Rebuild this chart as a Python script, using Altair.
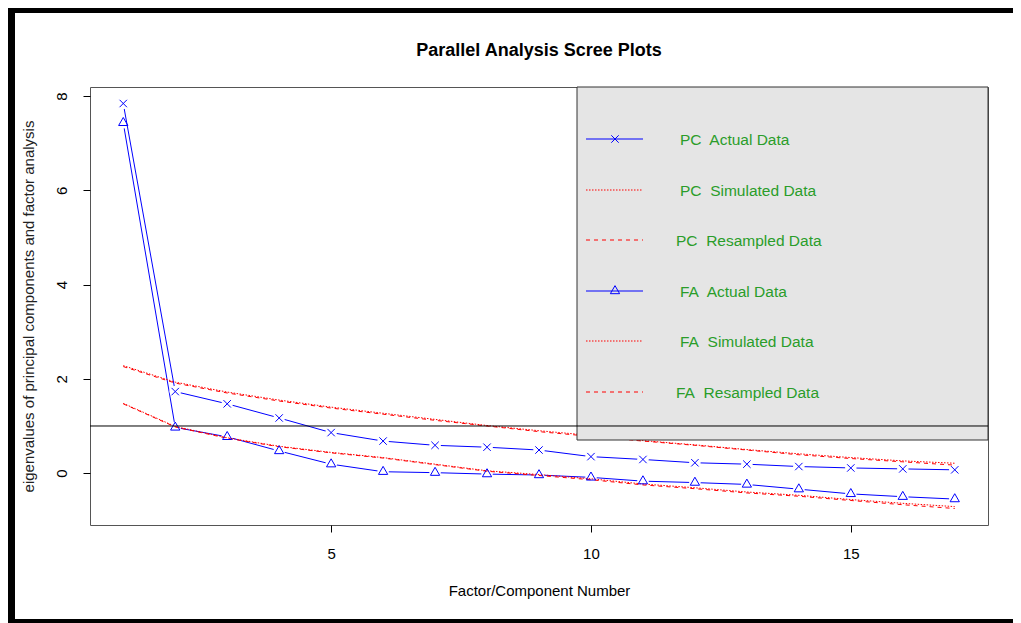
import altair as alt
import pandas as pd

# ---------------- data ----------------
factor = list(range(1, 18))
pc_actual = [7.84, 1.73, 1.47, 1.17, 0.86, 0.68, 0.59, 0.55, 0.49, 0.35, 0.29, 0.22, 0.19, 0.14, 0.11, 0.09, 0.07]
fa_actual = [7.43, 0.97, 0.77, 0.47, 0.19, 0.03, 0.01, -0.02, -0.04, -0.09, -0.17, -0.20, -0.24, -0.34, -0.44, -0.50, -0.55]
pc_simulated = [2.28, 1.93, 1.72, 1.55, 1.40, 1.27, 1.14, 1.01, 0.90, 0.80, 0.69, 0.60, 0.50, 0.41, 0.33, 0.26, 0.21]
pc_resampled = [2.26, 1.91, 1.70, 1.53, 1.38, 1.25, 1.12, 1.00, 0.88, 0.78, 0.68, 0.59, 0.49, 0.39, 0.31, 0.24, 0.17]
fa_simulated = [1.48, 0.99, 0.75, 0.57, 0.44, 0.33, 0.19, 0.05, -0.03, -0.12, -0.23, -0.31, -0.40, -0.47, -0.56, -0.64, -0.71]
fa_resampled = [1.47, 0.98, 0.74, 0.56, 0.43, 0.32, 0.18, 0.04, -0.05, -0.14, -0.25, -0.33, -0.42, -0.49, -0.58, -0.67, -0.75]

x_ticks = [5, 10, 15]
y_ticks = [0, 2, 4, 6, 8]

legend_labels = ["PC\u00a0 Actual Data", "PC\u00a0 Simulated Data", "PC\u00a0 Resampled Data",
                 "FA\u00a0 Actual Data", "FA\u00a0 Simulated Data", "FA\u00a0 Resampled Data"]

title_text = "Parallel Analysis Scree Plots"
x_title = "Factor/Component Number"
y_title = "eigenvalues of principal components and factor analysis"

# ---------------- styling ----------------
FONT = "Liberation Sans"
BLUE = "#0000FF"
RED = "#FF0000"
GREEN = "#2a9d2a"
DOTTED = [1.5, 1.5]
DASHED = [4, 4]
CROSS_PATH = "M-1,-1L1,1M1,-1L-1,1"
TRI_PATH = "M0,-1.155L1,0.577L-1,0.577Z"

W, H = 898, 438

df = pd.DataFrame({
    "factor": factor,
    "pc_actual": pc_actual,
    "fa_actual": fa_actual,
    "pc_simulated": pc_simulated,
    "pc_resampled": pc_resampled,
    "fa_simulated": fa_simulated,
    "fa_resampled": fa_resampled,
})

xscale = alt.Scale(domain=[0.36, 17.64], nice=False, zero=False)
yscale = alt.Scale(domain=[-1.10, 8.19], nice=False, zero=False)

x_axis = alt.Axis(values=x_ticks, format="d", grid=False, domain=False,
                  tickColor="#000000", tickSize=7, tickWidth=1,
                  labelFont=FONT, labelFontSize=15, labelColor="#000000",
                  labelBaseline="middle", labelPadding=21,
                  title=x_title, titleFont=FONT, titleFontSize=15,
                  titleFontWeight="normal", titleColor="#000000",
                  titleX=W / 2, titleY=65, titleBaseline="middle", titleAlign="center")
y_axis = alt.Axis(values=y_ticks, format="d", grid=False, domain=False,
                  tickColor="#000000", tickSize=7, tickWidth=1,
                  labelFont=FONT, labelFontSize=15, labelColor="#000000",
                  labelAngle=270, labelAlign="center", labelBaseline="middle", labelPadding=22,
                  title=y_title, titleFont=FONT, titleFontSize=15,
                  titleFontWeight="normal", titleColor="#222222",
                  titleAngle=270, titleX=-62, titleY=H / 2,
                  titleBaseline="middle", titleAlign="center")

base = alt.Chart(df)
X = alt.X("factor:Q", scale=xscale, axis=x_axis)


def Y(col):
    return alt.Y(f"{col}:Q", scale=yscale, axis=y_axis)


layers = []
# actual data lines with gaps around the points (R type = "b")
layers.append(base.mark_line(color=BLUE, strokeWidth=1).encode(x=X, y=Y("fa_actual")))
layers.append(base.mark_circle(color="white", opacity=1, size=133).encode(x=X, y=Y("fa_actual")))
layers.append(base.mark_line(color=BLUE, strokeWidth=1).encode(x=X, y=Y("pc_actual")))
layers.append(base.mark_circle(color="white", opacity=1, size=133).encode(x=X, y=Y("pc_actual")))
# simulated / resampled
layers.append(base.mark_line(color=RED, strokeWidth=1, strokeDash=DOTTED).encode(x=X, y=Y("pc_simulated")))
layers.append(base.mark_line(color=RED, strokeWidth=1, strokeDash=DASHED).encode(x=X, y=Y("pc_resampled")))
layers.append(base.mark_line(color=RED, strokeWidth=1, strokeDash=DOTTED).encode(x=X, y=Y("fa_simulated")))
layers.append(base.mark_line(color=RED, strokeWidth=1, strokeDash=DASHED).encode(x=X, y=Y("fa_resampled")))
# markers
layers.append(base.mark_point(shape=CROSS_PATH, size=55, filled=False, color=BLUE,
                              strokeWidth=1, opacity=1).encode(x=X, y=Y("pc_actual")))
layers.append(base.mark_point(shape=TRI_PATH, size=86, filled=False, color=BLUE,
                              strokeWidth=1, opacity=1).encode(x=X, y=Y("fa_actual")))

# ---------------- legend (drawn like R's legend box) ----------------
one = pd.DataFrame({"k": [0]})
leg = alt.Chart(one)
LX0, LX1, LY0, LY1 = 487, W, 0, 353
layers.append(leg.mark_rect(fill="#E5E5E5", stroke="#333333", strokeWidth=1).encode(
    x=alt.value(LX0), x2=alt.value(LX1), y=alt.value(LY0), y2=alt.value(LY1)))

styles = [(BLUE, None, CROSS_PATH, 55), (RED, DOTTED, None, 0), (RED, DASHED, None, 0),
          (BLUE, None, TRI_PATH, 86), (RED, DOTTED, None, 0), (RED, DASHED, None, 0)]
text_x = [590, 590, 586, 590, 590, 586]
for i, lab in enumerate(legend_labels):
    ry = round(52 + i * 50.6)
    color, dash, shape, size = styles[i]
    kw = dict(color=color, strokeWidth=1.2)
    if dash is not None:
        kw["strokeDash"] = dash
    layers.append(leg.mark_rule(**kw).encode(x=alt.value(496), x2=alt.value(553), y=alt.value(ry)))
    if shape is not None:
        layers.append(leg.mark_point(shape=shape, size=size, filled=False, color=color,
                                     strokeWidth=1, opacity=1).encode(x=alt.value(525), y=alt.value(ry)))
    layers.append(leg.mark_text(text=lab, font=FONT, fontSize=15.5, color=GREEN,
                                align="left", baseline="middle").encode(
        x=alt.value(text_x[i]), y=alt.value(ry + 1)))

# reference line at eigenvalue 1
layers.append(alt.Chart(one).mark_rule(color="#000000", strokeWidth=1).encode(y=alt.datum(1)))

# title
layers.append(leg.mark_text(text=title_text, font=FONT, fontSize=18, fontWeight="bold",
                            color="#000000", align="center", baseline="alphabetic").encode(
    x=alt.value(W / 2), y=alt.value(-31)))

# outer black frame of the picture
frame_parts = [(-82, 923, -79, -74), (-82, -75, -79, 536), (-82, 923, 532, 536)]
for (a, b, c, d) in frame_parts:
    layers.append(leg.mark_rect(fill="#000000").encode(
        x=alt.value(a), x2=alt.value(b), y=alt.value(c), y2=alt.value(d)))

chart = alt.layer(*layers).properties(
    width=W, height=H,
    padding={"left": 82, "top": 79, "right": 25, "bottom": 98},
    autosize=alt.AutoSizeParams(type="none"),
    background="white",
).configure_view(stroke="#555555", strokeWidth=1)

chart.save("out.html", embed_options={"renderer": "svg", "actions": False})
